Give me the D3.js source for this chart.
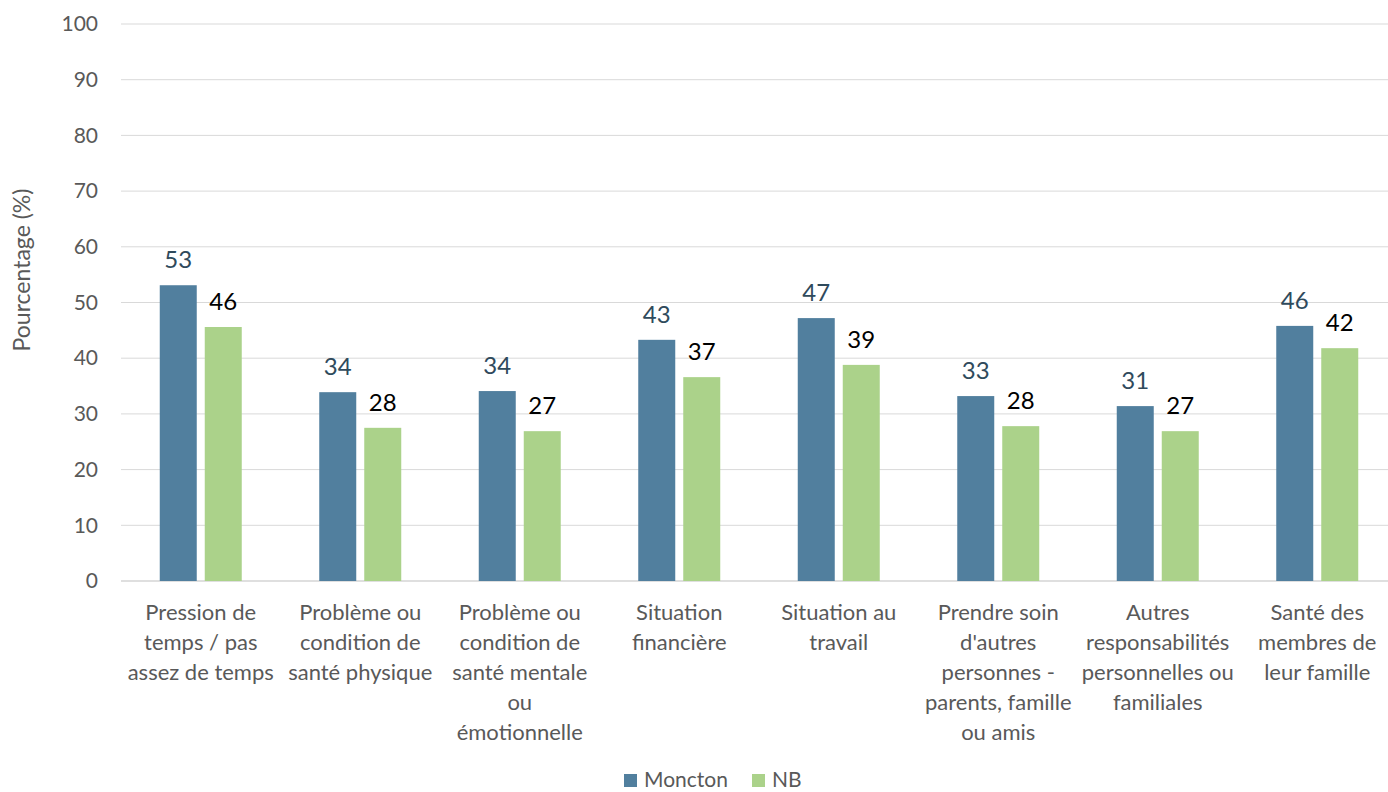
<!DOCTYPE html>
<html><head><meta charset="utf-8">
<script src="https://cdn.jsdelivr.net/npm/d3@7"></script>
<style>body{margin:0;background:#fff}svg{display:block}text{font-family:Lato,"Open Sans",sans-serif}</style>
</head><body><svg id="c" width="1388" height="792"></svg>
<script>
const categories = [
  ["Pression de","temps / pas","assez de temps"],
  ["Problème ou","condition de","santé physique"],
  ["Problème ou","condition de","santé mentale","ou","émotionnelle"],
  ["Situation","financière"],
  ["Situation au","travail"],
  ["Prendre soin","d'autres","personnes -","parents, famille","ou amis"],
  ["Autres","responsabilités","personnelles ou","familiales"],
  ["Santé des","membres de","leur famille"]
];
const series = ["Moncton","NB"];
const moncton = [53.1, 33.9, 34.1, 43.3, 47.2, 33.2, 31.4, 45.8];
const nb = [45.6, 27.5, 26.9, 36.6, 38.8, 27.8, 26.9, 41.8];
const yTicks = [0,10,20,30,40,50,60,70,80,90,100];

(function(){
const colors = {Moncton:"#517f9e", NB:"#abd28a"};
const labelColors = {Moncton:"#2f4a5c", NB:"#000"};

const svg = d3.select("#c");
const pLeft=121, pRight=1397, pTop=24, pBottom=581;
const x = d3.scaleBand().domain(d3.range(categories.length)).range([pLeft,pRight]);
const y = d3.scaleLinear().domain([0,100]).range([pBottom,pTop]);
const barW = 37, gap = 8;

svg.append("g").selectAll("line").data(yTicks).join("line")
  .attr("x1",pLeft).attr("x2",pRight)
  .attr("y1",d=>y(d)).attr("y2",d=>y(d))
  .attr("stroke",d=>d===0?"#bfbfbf":"#d9d9d9").attr("stroke-width",1);

const yAxis = d3.axisLeft(y).tickValues(yTicks).tickSize(0).tickPadding(0);
const ga = svg.append("g").attr("transform",`translate(${pLeft-23},0)`).call(yAxis);
ga.select(".domain").remove();
ga.selectAll("text").attr("font-size",21).attr("fill","#595959").attr("font-family","Lato,'Open Sans',sans-serif");

svg.append("text").attr("transform",`translate(30,270) rotate(-90)`)
  .attr("text-anchor","middle").attr("font-size",23).attr("fill","#595959").text("Pourcentage (%)");

const data = [{name:series[0],vals:moncton,off:-(gap/2+barW)},{name:series[1],vals:nb,off:gap/2}];
data.forEach(s=>{
  const g = svg.append("g");
  g.selectAll("rect").data(s.vals).join("rect")
    .attr("x",(d,i)=>x(i)+x.bandwidth()/2+s.off)
    .attr("width",barW)
    .attr("y",d=>y(d)).attr("height",d=>y(0)-y(d))
    .attr("fill",colors[s.name]);
  g.selectAll("text").data(s.vals).join("text")
    .attr("x",(d,i)=>x(i)+x.bandwidth()/2+s.off+barW/2)
    .attr("y",d=>y(d)-17)
    .attr("text-anchor","middle").attr("font-size",24)
    .attr("fill",labelColors[s.name]).text(d=>Math.round(d));
});

const cg = svg.append("g");
categories.forEach((lines,i)=>{
  const cx = x(i)+x.bandwidth()/2;
  const t = cg.append("text").attr("x",cx).attr("y",620)
    .attr("text-anchor","middle").attr("font-size",22).attr("fill","#595959");
  lines.forEach((l,j)=>t.append("tspan").attr("x",cx).attr("dy",j?30:0).text(l));
});

const lg = svg.append("g");
const items = [{n:series[0],x:624},{n:series[1],x:752}];
items.forEach(it=>{
  lg.append("rect").attr("x",it.x).attr("y",774).attr("width",13).attr("height",13).attr("fill",colors[it.n]);
  lg.append("text").attr("x",it.x+20).attr("y",787).attr("font-size",21).attr("fill","#595959").text(it.n);
});
})();
</script></body></html>
